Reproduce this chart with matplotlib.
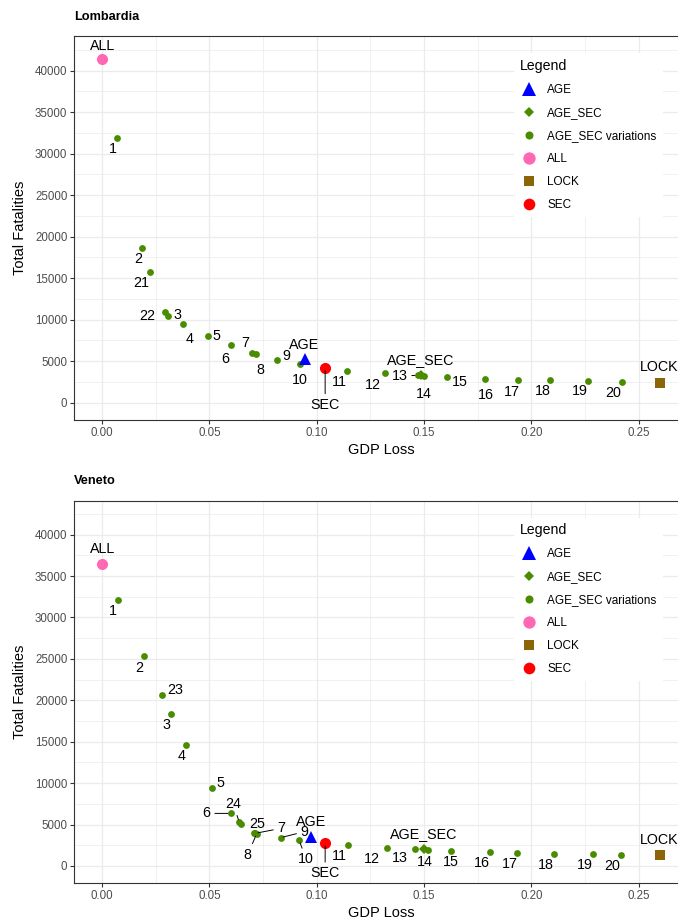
import matplotlib
matplotlib.use("Agg")
import matplotlib.pyplot as plt
from matplotlib.lines import Line2D
from matplotlib.ticker import MultipleLocator, FuncFormatter

plt.rcParams['font.family'] = ['Liberation Sans', 'DejaVu Sans']

# ---------------- data ----------------
# Lombardia
lom_var_labels = ['1', '2', '21', '22', '3', '4', '5', '6', '7', '8', '9', '10', '11',
                  '12', '13', '14', '15', '16', '17', '18', '19', '20']
lom_var_gdp = [0.0070, 0.0187, 0.0224, 0.0291, 0.0307, 0.0376, 0.0495, 0.0599, 0.0697,
               0.0718, 0.0816, 0.0920, 0.1143, 0.1320, 0.1470, 0.1500, 0.1605, 0.1784,
               0.1937, 0.2087, 0.2265, 0.2421]
lom_var_fat = [31930, 18620, 15730, 10920, 10440, 9470, 7980, 6900, 6020, 5860, 5180,
               4610, 3850, 3530, 3290, 3250, 3090, 2890, 2770, 2680, 2560, 2490]
lom_named = ['AGE', 'AGE_SEC', 'ALL', 'LOCK', 'SEC']
lom_named_gdp = [0.0943, 0.1485, 0.0, 0.2598, 0.1039]
lom_named_fat = [5300, 3300, 41410, 2370, 4180]

# Veneto
ven_var_labels = ['1', '2', '23', '3', '4', '5', '6', '24', '', '25', '7', '8', '9', '10',
                  '11', '12', '13', '14', '15', '16', '17', '18', '19', '20']
ven_var_gdp = [0.0072, 0.0193, 0.0280, 0.0320, 0.0390, 0.0510, 0.0599, 0.0639, 0.0648,
               0.0709, 0.0714, 0.0720, 0.0831, 0.0918, 0.1147, 0.1327, 0.1457, 0.1517,
               0.1624, 0.1805, 0.1935, 0.2105, 0.2288, 0.2418]
ven_var_fat = [32140, 25310, 20580, 18380, 14650, 9350, 6340, 5260, 5020, 3970, 3940,
               3890, 3410, 3090, 2530, 2200, 2050, 1960, 1840, 1690, 1600, 1480, 1410, 1320]
ven_named = ['AGE', 'AGE_SEC', 'ALL', 'LOCK', 'SEC']
ven_named_gdp = [0.0975, 0.1498, 0.0, 0.2598, 0.1039]
ven_named_fat = [3450, 2080, 36510, 1290, 2730]

legend_labels = ['AGE', 'AGE_SEC', 'AGE_SEC variations', 'ALL', 'LOCK', 'SEC']

# ---------------- styles ----------------
GREEN = '#4A8C00'
named_style = {
    'AGE': dict(marker='^', color='#0000FF', ms=8.8),
    'AGE_SEC': dict(marker='D', color=GREEN, ms=4.6),
    'ALL': dict(marker='o', color='#FF69B4', ms=8.0),
    'LOCK': dict(marker='s', color='#8B6508', ms=7.6),
    'SEC': dict(marker='o', color='#FF0000', ms=8.0),
}
legend_style = {
    'AGE': dict(marker='^', color='#0000FF', ms=10.5),
    'AGE_SEC': dict(marker='D', color=GREEN, ms=5.6),
    'AGE_SEC variations': dict(marker='o', color=GREEN, ms=5.8),
    'ALL': dict(marker='o', color='#FF69B4', ms=8.9),
    'LOCK': dict(marker='s', color='#8B6508', ms=7.9),
    'SEC': dict(marker='o', color='#FF0000', ms=8.4),
}

# label offsets (pixels, x right / y up) and whether a leader segment is drawn
lom_offsets = {
    '1': (-4, -11), '2': (-4, -11), '21': (-9, -11), '22': (-17, -4), '3': (9, 1),
    '4': (7, -15), '5': (8, 0), '6': (-5, -14), '7': (-7, 10), '8': (4, -16),
    '9': (9, 4), '10': (0, -16), '11': (-8, -11), '12': (-13, -12), '13': (-18, -1),
    '14': (0, -18), '15': (13, -5), '16': (1, -16), '17': (-6, -12), '18': (-7, -11),
    '19': (-8, -10), '20': (-9, -11),
    'AGE': (0, 14), 'AGE_SEC': (0, 15), 'ALL': (0, 13), 'LOCK': (0, 16), 'SEC': (0, -37),
}
lom_leaders = {'13', 'SEC'}
ven_offsets = {
    '1': (-5, -11), '2': (-4, -12), '23': (13, 5), '3': (-4, -11), '4': (-4, -11),
    '5': (9, 5), '6': (-24, 0), '24': (-6, 18), '25': (3, 9), '7': (26, 5),
    '8': (-9, -21), '9': (24, 6), '10': (7, -19), '11': (-9, -11), '12': (-15, -11),
    '13': (-15, -9), '14': (-3, -12), '15': (0, -11), '16': (-8, -11), '17': (-8, -11),
    '18': (-8, -11), '19': (-8, -11), '20': (-9, -11),
    'AGE': (0, 15), 'AGE_SEC': (0, 15), 'ALL': (0, 15), 'LOCK': (0, 15), 'SEC': (0, -30),
}
ven_leaders = {'6', '24', '7', '8', '9', '10', 'SEC'}

W, H = 678, 922
fig = plt.figure(figsize=(W / 100, H / 100), dpi=100)


def px_axes(left, top, right, bottom):
    return fig.add_axes([left / W, 1 - bottom / H, (right - left) / W, (bottom - top) / H])


def fmt_x(v, pos):
    return f'{v:.2f}'


def fmt_y(v, pos):
    return f'{int(round(v))}'


def draw_panel(ax, title, title_y, var_labels, var_gdp, var_fat, named, ngdp, nfat,
               offsets, leaders):
    ax.set_xlim(-0.013, 0.273)
    ax.set_ylim(-2100, 44100)
    ax.xaxis.set_major_locator(MultipleLocator(0.05))
    ax.xaxis.set_minor_locator(MultipleLocator(0.025))
    ax.yaxis.set_major_locator(MultipleLocator(5000))
    ax.yaxis.set_minor_locator(MultipleLocator(2500))
    ax.xaxis.set_major_formatter(FuncFormatter(fmt_x))
    ax.yaxis.set_major_formatter(FuncFormatter(fmt_y))
    ax.grid(which='major', color='#EBEBEB', lw=0.9)
    ax.grid(which='minor', color='#EBEBEB', lw=0.5)
    ax.set_axisbelow(True)
    for s in ax.spines.values():
        s.set_color('#333333')
        s.set_linewidth(0.8)
    ax.tick_params(which='major', length=2.7, width=0.8, color='#333333',
                   labelcolor='#4D4D4D', labelsize=8.3, pad=2.3)
    ax.tick_params(which='minor', length=0)

    ax.plot(var_gdp, var_fat, linestyle='none', marker='o', ms=4.9, color=GREEN,
            markeredgewidth=0, zorder=3)
    for n, gx, fy in zip(named, ngdp, nfat):
        st = named_style[n]
        ax.plot([gx], [fy], linestyle='none', marker=st['marker'], ms=st['ms'],
                color=st['color'], markeredgewidth=0, zorder=4)

    for lab, gx, fy in list(zip(var_labels, var_gdp, var_fat)) + list(zip(named, ngdp, nfat)):
        if not lab:
            continue
        dx, dy = offsets[lab]
        kw = {}
        if lab in leaders:
            kw['arrowprops'] = dict(arrowstyle='-', color='black', lw=0.7,
                                    shrinkA=1, shrinkB=2)
        ax.annotate(lab, xy=(gx, fy), xytext=(dx, dy), textcoords='offset pixels',
                    ha='center', va='center', fontsize=10.3, color='black',
                    zorder=5, annotation_clip=False, **kw)

    handles = []
    for lab in legend_labels:
        st = legend_style[lab]
        handles.append(Line2D([], [], linestyle='none', marker=st['marker'],
                              ms=st['ms'], color=st['color'], markeredgewidth=0))
    leg = ax.legend(handles, legend_labels, title='Legend', loc='upper left',
                    bbox_to_anchor=(0.7165, 0.9560), borderaxespad=0, frameon=True,
                    fancybox=False, framealpha=1, facecolor='white', edgecolor='none',
                    fontsize=8.45, title_fontsize=10.2, alignment='left',
                    handlelength=1.5, handletextpad=0.85, labelspacing=0.93,
                    borderpad=0.5)
    leg.set_zorder(6)

    fig.text(74 / W, 1 - title_y / H, title, fontsize=9.2, fontweight='bold',
             ha='left', va='center')


ax1 = px_axes(74.3, 36.5, 688, 420)
draw_panel(ax1, 'Lombardia', 17, lom_var_labels, lom_var_gdp, lom_var_fat,
           lom_named, lom_named_gdp, lom_named_fat, lom_offsets, lom_leaders)
ax2 = px_axes(74.3, 500.7, 688, 883.3)
draw_panel(ax2, 'Veneto', 481, ven_var_labels, ven_var_gdp, ven_var_fat,
           ven_named, ven_named_gdp, ven_named_fat, ven_offsets, ven_leaders)

for yc, yl in [(228, 450), (692, 913)]:
    fig.text(20 / W, 1 - yc / H, 'Total Fatalities', rotation=90, fontsize=10.5,
             ha='center', va='center')
    fig.text(381 / W, 1 - yl / H, 'GDP Loss', fontsize=10.5, ha='center', va='center')

fig.savefig('out.png', dpi=100, facecolor='white')
